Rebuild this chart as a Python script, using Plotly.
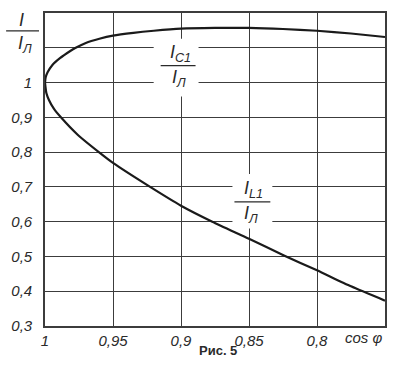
import plotly.graph_objects as go

# I_C1 / I_L  (upper branch)
cos_c1 = [1.000, 0.9995, 0.998, 0.9947, 0.989, 0.9817, 0.9774, 0.970, 0.960, 0.950, 0.935,
          0.920, 0.900, 0.875, 0.850, 0.825, 0.800, 0.775, 0.750]
val_c1 = [1.000, 1.015, 1.030, 1.050, 1.070, 1.090, 1.100, 1.114, 1.126, 1.135, 1.143,
          1.149, 1.155, 1.157, 1.157, 1.154, 1.149, 1.141, 1.131]

# I_L1 / I_L  (lower branch)
cos_l1 = [1.000, 0.999, 0.9971, 0.9935, 0.9883, 0.976, 0.9604, 0.950, 0.9227, 0.900,
          0.877, 0.850, 0.8243, 0.800, 0.775, 0.750]
val_l1 = [1.000, 0.970, 0.950, 0.925, 0.900, 0.850, 0.800, 0.769, 0.700, 0.646,
          0.600, 0.551, 0.503, 0.460, 0.414, 0.373]

x_ticks = [1.0, 0.95, 0.9, 0.85, 0.8]
x_ticktext = ["1", "0,95", "0,9", "0,85", "0,8"]
y_ticks = [0.3, 0.4, 0.5, 0.6, 0.7, 0.8, 0.9, 1.0, 1.1]
y_ticktext = ["0,3", "0,4", "0,5", "0,6", "0,7", "0,8", "0,9", "1", " "]

FONT = "Liberation Sans, Arial, sans-serif"
TXT = "#2a2a2a"
GRID = "#3c3c3c"

fig = go.Figure()
fig.add_trace(go.Scatter(x=cos_c1, y=val_c1, mode="lines",
                         line=dict(color="#1a1a1a", width=2.2, shape="spline", smoothing=0.6),
                         hoverinfo="skip", showlegend=False))
fig.add_trace(go.Scatter(x=cos_l1, y=val_l1, mode="lines",
                         line=dict(color="#1a1a1a", width=2.2, shape="spline", smoothing=0.6),
                         hoverinfo="skip", showlegend=False))

W, H = 400, 376
L, R, T, B = 44, 15, 11, 50
pw, ph = W - L - R, H - T - B

def px(x):
    return (x - L) / pw

def py(y):
    return 1 - (y - T) / ph

shapes = []
# white boxes behind the curve labels
for (x0, x1, y0, y1) in [(153, 198, 37, 95), (232, 272, 173, 228)]:
    shapes.append(dict(type="rect", xref="paper", yref="paper",
                       x0=px(x0), x1=px(x1), y0=py(y1), y1=py(y0),
                       fillcolor="white", line=dict(width=0), layer="above"))
# fraction bars
for (x0, x1, y) in [(5, 38, 29), (160, 195, 64), (234, 270, 201)]:
    shapes.append(dict(type="line", xref="paper", yref="paper",
                       x0=px(x0), x1=px(x1), y0=py(y), y1=py(y),
                       line=dict(color=TXT, width=1.3), layer="above"))

ann = []
def add(text, x, y, size=16, italic=True, bold=False):
    t = text
    if italic:
        t = "<i>" + t + "</i>"
    if bold:
        t = "<b>" + t + "</b>"
    ann.append(dict(text=t, x=px(x), y=py(y), xref="paper", yref="paper",
                    showarrow=False, xanchor="center", yanchor="middle",
                    font=dict(family=FONT, size=size, color=TXT)))

# axis title I / I_Л
add("I", 20, 18, 18)
add("I<sub>Л</sub>", 24, 43, 18)
# label I_C1 / I_Л
add("I<sub>C1</sub>", 180, 52, 18)
add("I<sub>Л</sub>", 178, 77, 18)
# label I_L1 / I_Л
add("I<sub>L1</sub>", 253, 189, 18)
add("I<sub>Л</sub>", 251, 214, 18)
# x axis label
add("cos φ", 364, 338, 15)
# caption
add("Рис. 5", 218, 351, 13, italic=False, bold=True)

fig.update_layout(
    width=W, height=H,
    margin=dict(l=L, r=R, t=T, b=B),
    paper_bgcolor="white", plot_bgcolor="white",
    shapes=shapes, annotations=ann,
    font=dict(family=FONT, color=TXT),
)
fig.update_xaxes(range=[1.0, 0.75], tickmode="array", tickvals=x_ticks,
                 ticktext=["<i>%s</i>" % t for t in x_ticktext],
                 showgrid=True, gridcolor=GRID, gridwidth=1.4,
                 showline=True, linecolor=GRID, linewidth=1.6, mirror=True,
                 zeroline=False, ticks="",
                 tickfont=dict(family=FONT, size=15, color=TXT))
fig.update_yaxes(range=[0.3, 1.2], tickmode="array", tickvals=y_ticks,
                 ticktext=["<i>%s</i>" % t for t in y_ticktext],
                 showgrid=True, gridcolor=GRID, gridwidth=1.4,
                 showline=True, linecolor=GRID, linewidth=1.6, mirror=True,
                 zeroline=False, ticks="outside", ticklen=8, tickcolor="white",
                 tickfont=dict(family=FONT, size=15, color=TXT))

fig.write_html("out.html", config={"displayModeBar": False},
               post_script="document.body.style.margin='0';document.body.style.padding='0';")
